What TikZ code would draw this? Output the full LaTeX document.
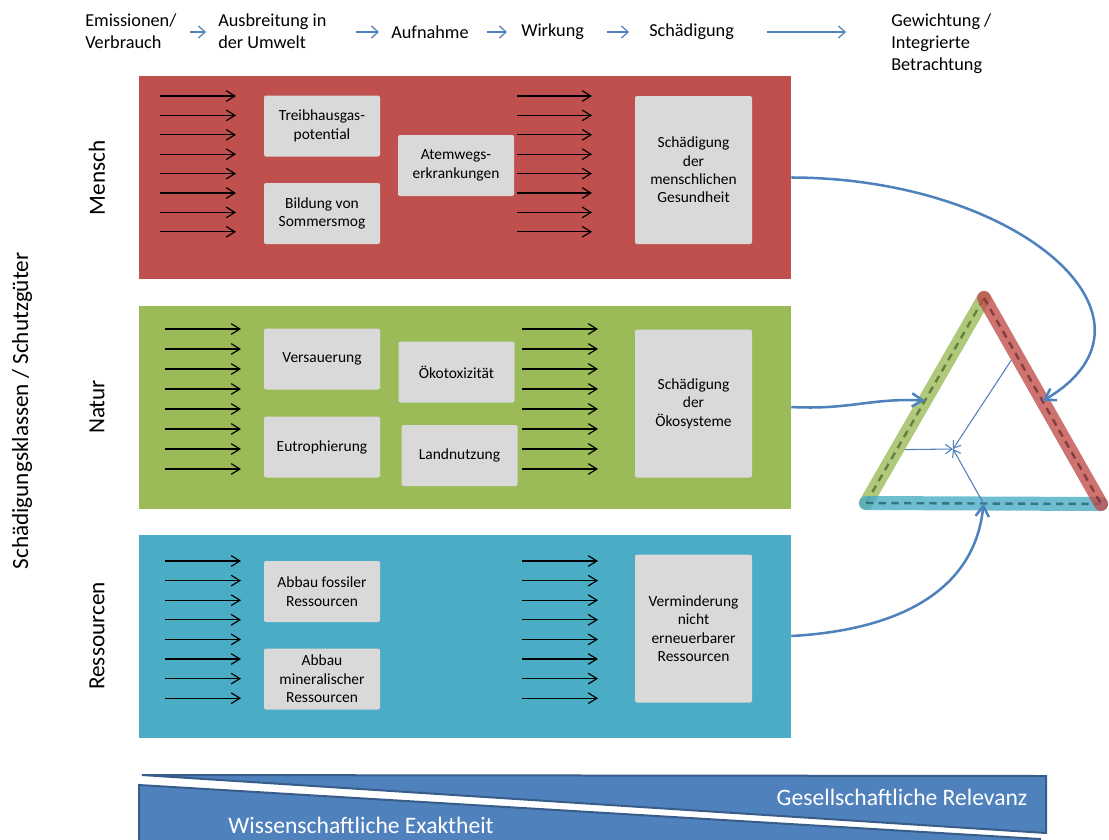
\documentclass[tikz,border=0pt]{standalone}
\usepackage{fontspec}
\setmainfont{Carlito}
\usetikzlibrary{arrows.meta,calc}
\definecolor{mred}{RGB}{192,80,77}
\definecolor{mgreen}{RGB}{155,187,89}
\definecolor{mcyan}{RGB}{75,172,198}
\definecolor{mblue}{RGB}{79,129,189}
\definecolor{mdblue}{RGB}{56,93,138}
\definecolor{mgray}{RGB}{217,217,217}
\tikzset{
  klasse/.style={minimum width=489pt,minimum height=152.25pt,inner sep=0},
  kat/.style={fill=mgray,rounded corners=1.5pt,minimum width=87pt,minimum height=45.75pt,
    align=center,inner sep=1pt,font=\fontsize{11.6}{13.8}\selectfont},
  ziel/.style={kat,minimum width=87.75pt,minimum height=111pt},
  kopf/.style={anchor=west,align=left,inner sep=0,font=\fontsize{13.7}{16.5}\selectfont},
  kopfpfeil/.style={mblue,line width=0.9pt,-{Straight Barb[length=5pt,width=9pt]}},
  seite/.style={rotate=90,inner sep=0,font=\fontsize{17.4}{20}\selectfont},
  pfeil/.style={black,line width=0.9pt,-{Straight Barb[length=6.5pt,width=8pt]}},
  bogen/.style={mblue,line width=1.9pt,-{Straight Barb[length=8pt,width=10pt]}},
  innen/.style={mblue,line width=0.8pt,-{Straight Barb[length=5pt,width=7pt]}},
  kante/.style={line width=10.5pt,line cap=round,opacity=0.8},
  strich/.style={line width=1.8pt,dash pattern=on 5.5pt off 4pt,opacity=0.85},
  keil/.style={fill=mblue,draw=mdblue,line width=1.5pt},
  keiltext/.style={white,inner sep=0,font=\fontsize{17.7}{20}\selectfont},
}
\begin{document}
\begin{tikzpicture}[x=0.75pt,y=-0.75pt]
\useasboundingbox (0,0) rectangle (1109,839);
% header
\node[kopf] (em) at (85,31) {Emissionen/\\Verbrauch};
\node[kopf] (aus) at (218,31) {Ausbreitung in\\der Umwelt};
\node[kopf] (auf) at (391,32) {Aufnahme};
\node[kopf] (wir) at (521,32) {Wirkung};
\node[kopf] (sch) at (649,32) {Schädigung};
\node[kopf,anchor=north west] (gew) at (891,0 |- em.north) {Gewichtung /\\Integrierte\\Betrachtung};
\draw[kopfpfeil,shorten <=9.75pt,shorten >=9pt] (em.east |- auf.west) -- (aus.west |- auf.west);
\draw[kopfpfeil,shorten <=21.75pt,shorten >=9pt] (aus.east |- auf.west) -- (auf.west);
\draw[kopfpfeil,shorten <=13.5pt,shorten >=10.5pt] (auf.east) -- (wir.west);
\draw[kopfpfeil,shorten <=17.25pt,shorten >=15pt] (wir.east) -- (sch.west);
\draw[kopfpfeil,shorten <=24.75pt,shorten >=33.75pt] (sch.east) -- (sch.east -| gew.west);
% classes
\node[seite] (ach) at (22,411) {Schädigungsklassen / Schutzgüter};
\node[klasse,fill=mred] (mensch) at (465,177.5) {};
\node[klasse,fill=mgreen] (natur) at (465,407) {};
\node[klasse,fill=mcyan] (ress) at (465,636) {};
\node[seite] (lm) at (97,178) {Mensch};
\node[seite] (ln) at (97,407) {Natur};
\node[seite] (lr) at (97,636) {Ressourcen};
% draw the arrows
\foreach \i in {0,...,7} {
  \draw[pfeil] (160,{96+19.4*\i}) -- ++(76,0);
  \draw[pfeil] (517,{96+19.4*\i}) -- ++(75,0);
  \draw[pfeil] (165,{329+20*\i}) -- ++(76,0);
  \draw[pfeil] (522,{329+20*\i}) -- ++(76,0);
  \draw[pfeil] (165,{561+19.6*\i}) -- ++(76,0);
  \draw[pfeil] (522,{561+19.6*\i}) -- ++(76,0);
}
% categories
\node[kat] (tgp) at (322,126) {Treibhausgas-\\potential};
\node[kat] (smog) at (322,213.5) {Bildung von\\Sommersmog};
\node[kat] (atem) at (456,165.5) {Atemwegs-\\erkrankungen};
\node[ziel] (gesund) at (693.5,170) {Schädigung\\der\\menschlichen\\Gesundheit};
\node[kat] (vers) at (322,359) {Versauerung};
\node[kat] (eutro) at (322,447) {Eutrophierung};
\node[kat] (oeko) at (456.5,372) {Ökotoxizität};
\node[kat] (land) at (459.5,455.5) {Landnutzung};
\node[ziel] (oekosys) at (693.5,403.5) {Schädigung\\der\\Ökosysteme};
\node[kat] (fossil) at (322,591.5) {Abbau fossiler\\Ressourcen};
\node[kat] (miner) at (322,679) {Abbau\\mineralischer\\Ressourcen};
\node[ziel] (vermind) at (693.5,628.5) {Verminderung\\nicht\\erneuerbarer\\Ressourcen};
% triangle
\coordinate (top) at (984,298);
\coordinate (bl) at (866,503);
\coordinate (br) at (1101,504);
\draw[kante,mgreen] (bl) -- (top);
\draw[strich,mgreen!60!black] (bl) -- (top);
\draw[kante,mcyan] (bl) -- (br);
\draw[strich,mcyan!60!black] (bl) -- (br);
\draw[kante,mred] (top) -- (br);
\draw[strich,mred!65!black] (top) -- (br);
\coordinate (gs) at ($(bl)!0.5!(top)$);
\coordinate (rs) at ($(top)!0.5!(br)$);
\coordinate (bs) at ($(bl)!0.5!(br)$);
\coordinate (mitte) at (953,449);
\draw[bogen] (mensch.east) .. controls (1020,178) and (1180,320) .. (rs);
\draw[bogen] (natur.east) .. controls (850,410) and (870,398) .. (gs);
\draw[bogen] (ress.east) .. controls (900,630) and (975,590) .. (bs);
\draw[innen,shorten <=6pt] ($(top)!0.27!(br)$) -- (mitte);
\draw[innen,shorten <=6pt] ($(bl)!0.26!(top)$) -- (mitte);
\draw[innen] (bs) -- (mitte);
% bottom wedges
\draw[keil] (142,775) -- (1046,776) -- (1046,833) -- cycle;
\draw[keil] (139,785) -- (1040,839) -- (1040,850) -- (139,850) -- cycle;
\node[keiltext] (rel) at (902,797) {Gesellschaftliche Relevanz};
\node[keiltext] (exa) at (361,825) {Wissenschaftliche Exaktheit};
\end{tikzpicture}
\end{document}
